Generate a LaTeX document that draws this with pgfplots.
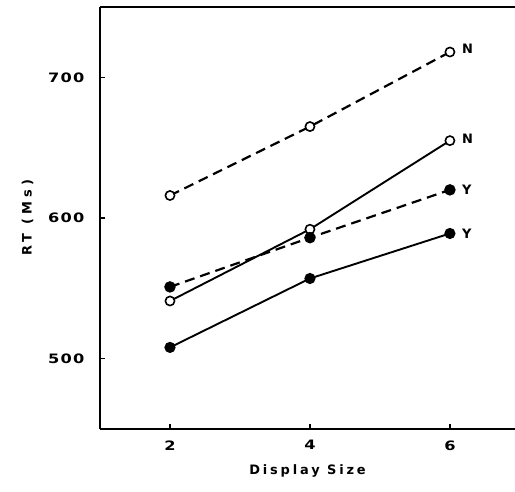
\documentclass[border=0pt]{standalone}
\usepackage{fontspec}
\setmainfont{DejaVu Sans}
\newfontfamily\lab[LetterSpace=22]{DejaVu Sans}
\newfontfamily\tk[FakeStretch=1.25, LetterSpace=10]{DejaVu Sans}
\newfontfamily\yl[LetterSpace=32]{DejaVu Sans}
\usepackage{pgfplots}
\pgfplotsset{compat=1.18}
\begin{document}
\begin{tikzpicture}
\begin{axis}[
  scale only axis, width=415bp, height=422bp,
  xmin=1, xmax=6.93, ymin=450, ymax=750,
  axis x line*=box, axis y line*=left,
  axis line style={line width=2.4pt},
  xtick={2,4,6}, ytick={500,600,700},
  xtick pos=bottom, ytick pos=left,
  tick align=inside, major tick length=5bp,
  tick style={line width=1.6pt, black},
  /pgf/number format/assume math mode=true,
  ticklabel style={font=\tk\bfseries\fontsize{13}{15}\selectfont},
  xticklabel style={yshift=-8bp},
  yticklabel style={xshift=-12bp},
  xlabel={\lab\bfseries\fontsize{13}{15}\selectfont Display Size},
  ylabel={\yl\bfseries\fontsize{13}{15}\selectfont RT (Ms)},
  xlabel style={yshift=-8bp},
  ylabel style={yshift=8bp},
  clip=false,
]
% dashed, open (N)
\addplot[black, line width=2.2pt, dash pattern=on 10bp off 6bp,
  mark=*, mark size=4.6bp, mark options={solid, fill=white, line width=1.6pt}]
  coordinates {(2,616) (4,665) (6,718)};
% solid, open (N)
\addplot[black, line width=1.9pt,
  mark=*, mark size=4.6bp, mark options={solid, fill=white, line width=1.6pt}]
  coordinates {(2,541) (4,592) (6,655)};
% dashed, filled (Y)
\addplot[black, line width=2.2pt, dash pattern=on 10bp off 6bp,
  mark=*, mark size=4.6bp, mark options={solid, fill=black}]
  coordinates {(2,551) (4,586) (6,620)};
% solid, filled (Y)
\addplot[black, line width=1.9pt,
  mark=*, mark size=4.6bp, mark options={solid, fill=black}]
  coordinates {(2,508) (4,557) (6,589)};
\node[anchor=west, inner sep=0pt, font=\lab\bfseries\fontsize{13}{15}\selectfont] at (axis cs:6.17,720) {N};
\node[anchor=west, inner sep=0pt, font=\lab\bfseries\fontsize{13}{15}\selectfont] at (axis cs:6.17,656) {N};
\node[anchor=west, inner sep=0pt, font=\lab\bfseries\fontsize{13}{15}\selectfont] at (axis cs:6.17,620) {Y};
\node[anchor=west, inner sep=0pt, font=\lab\bfseries\fontsize{13}{15}\selectfont] at (axis cs:6.17,589) {Y};
\end{axis}
\pgfresetboundingbox
\path ([shift={(-100bp,-63bp)}]current axis.south west) rectangle ([shift={(0bp,7bp)}]current axis.north east);
\end{tikzpicture}
\end{document}
